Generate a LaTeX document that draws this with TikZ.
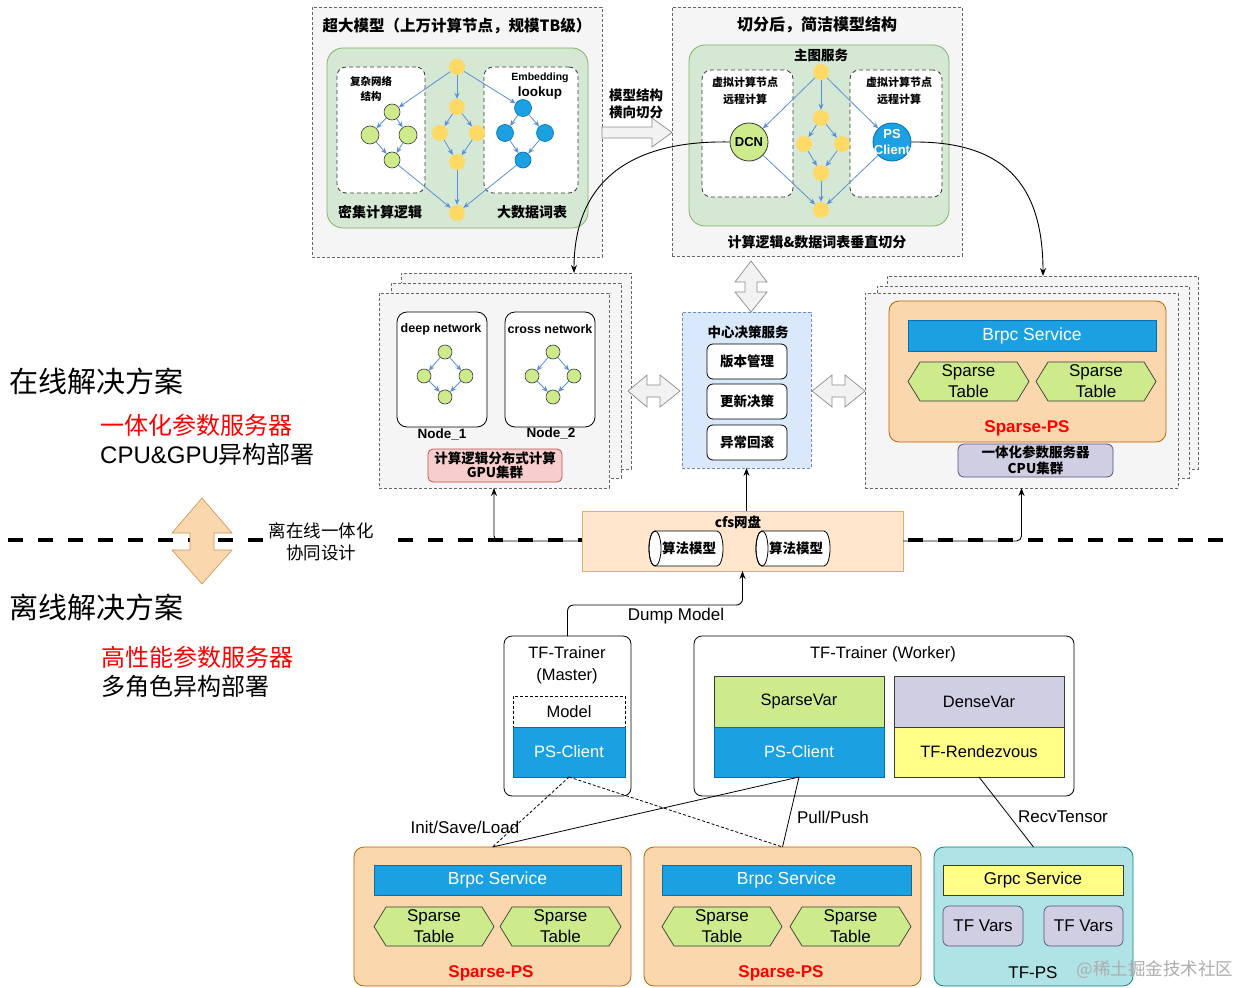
\documentclass[tikz,border=0pt]{standalone}
\usepackage{fontspec}
\setmainfont{Liberation Sans}
\newfontfamily\cjk{Noto Sans CJK SC}
\usetikzlibrary{arrows.meta,calc}
\definecolor{gfill}{HTML}{F5F5F5}
\definecolor{gline}{HTML}{666666}
\definecolor{grfill}{HTML}{D5E8D4}
\definecolor{grline}{HTML}{82B366}
\definecolor{ycol}{HTML}{FFD966}
\definecolor{lime}{HTML}{CDEB8B}
\definecolor{dk}{HTML}{36393D}
\definecolor{bl}{HTML}{1BA1E2}
\definecolor{bld}{HTML}{006EAF}
\definecolor{arr}{HTML}{5B8ED8}
\definecolor{orf}{HTML}{FAD7AC}
\definecolor{orl}{HTML}{B46504}
\definecolor{puf}{HTML}{D0CEE2}
\definecolor{pul}{HTML}{56517E}
\definecolor{yef}{HTML}{FFFF88}
\definecolor{tef}{HTML}{B0E3E6}
\definecolor{tel}{HTML}{0E8088}
\definecolor{cff}{HTML}{FFE6CC}
\definecolor{cfl}{HTML}{D6B656}
\definecolor{dbf}{HTML}{DAE8FC}
\definecolor{dbl}{HTML}{6C8EBF}
\definecolor{pkf}{HTML}{F8CECC}
\definecolor{pkl}{HTML}{B85450}
\definecolor{redt}{HTML}{FF0000}
\definecolor{blkf}{HTML}{F2F2F2}
\definecolor{blkl}{HTML}{8C8C8C}
\newcommand{\fz}[2]{\fontsize{#1}{#2}\selectfont}
\newcommand{\bnode}[7]{\node[inner sep=0pt,outer sep=0pt,minimum width={#5-#3},minimum height={#6-#4},#1] (#2) at ({(#3+#5)/2},{(#4+#6)/2}) {#7};}
\newcommand{\hexnode}[6]{%
  \draw[hexst] (#2,{(#3+#5)/2}) -- ({#2+12},#3) -- ({#4-12},#3) -- (#4,{(#3+#5)/2}) -- ({#4-12},#5) -- ({#2+12},#5) -- cycle;
  \node[align=center,font=\fz{17}{21},inner sep=0pt] (#1) at ({(#2+#4)/2},{(#3+#5)/2}) {#6};}
\newcommand{\cylnode}[6]{%
  \draw[fill=white,line width=0.8pt] ({#4-6},#3) arc[start angle=90,end angle=-90,x radius=6pt,y radius=17.5pt] -- ({#2+6},#5) arc[start angle=270,end angle=90,x radius=6pt,y radius=17.5pt] -- cycle;
  \draw[line width=0.8pt] ({#2+6},{(#3+#5)/2}) ellipse [x radius=6pt,y radius=17.5pt];
  \node[font=\cjk\bfseries\fz{13.5}{16},inner sep=0pt] (#1) at ({(#2+#4)/2+3},{(#3+#5)/2}) {#6};}
\tikzset{
 grayframe/.style={draw=gline,fill=gfill,dash pattern=on 3pt off 2pt,line width=0.7pt},
 greenbox/.style={draw=grline,fill=grfill,rounded corners=16pt,line width=0.8pt},
 wdash/.style={draw=dk,fill=white,dash pattern=on 4pt off 3pt,rounded corners=9pt,line width=0.8pt},
 ycirc/.style={circle,fill=ycol,inner sep=0pt,minimum size=16pt},
 gcirc/.style={circle,fill=lime,draw=dk,inner sep=0pt,line width=0.6pt},
 bcirc/.style={circle,fill=bl,draw=bld,inner sep=0pt,line width=0.6pt},
 barr/.style={draw=arr,line width=0.8pt,-{Stealth[length=6pt,width=5pt]}},
 karr/.style={draw=black,line width=0.9pt,-{Stealth[length=8pt,width=6pt]}},
 blockarr/.style={draw=blkl,fill=blkf,line width=0.7pt},
 bluebar/.style={fill=bl,draw=bld,text=white,line width=0.6pt},
 hexst/.style={fill=lime,draw=dk,line width=0.7pt},
 orbox/.style={fill=orf,draw=orl,rounded corners=10pt,line width=0.8pt},
 wbox/.style={draw=black,fill=white,rounded corners=7pt,line width=0.8pt},
 conn/.style={draw=black,line width=0.8pt},
}
\begin{document}
\begin{tikzpicture}[x=1pt,y=-1pt]
\useasboundingbox[fill=white] (0,0) rectangle (1241,987);

% ---------- divider ----------
\draw[line width=4pt,dash pattern=on 15pt off 15pt] (8,540) -- (264,540);
\draw[line width=4pt,dash pattern=on 15pt off 15pt] (398,540) -- (1225,540);

% ---------- left texts ----------
\node[anchor=west,inner sep=0pt,font=\cjk\fz{29}{34}] (online) at (9,381) {在线解决方案};
\node[anchor=west,inner sep=0pt,font=\cjk\fz{24}{28},text=redt] (onl1) at (100,425) {一体化参数服务器};
\node[anchor=west,inner sep=0pt,font=\fz{24}{28}] (onl2) at (100,454) {CPU\&GPU{\cjk 异构部署}};
\node[anchor=west,inner sep=0pt,font=\cjk\fz{29}{34}] (offline) at (9,607) {离线解决方案};
\node[anchor=west,inner sep=0pt,font=\cjk\fz{24}{28},text=redt] (off1) at (101,657) {高性能参数服务器};
\node[anchor=west,inner sep=0pt,font=\cjk\fz{24}{28}] (off2) at (101,686) {多角色异构部署};
\draw[fill=orf,draw=orl!70,line width=0.6pt] (202,498) -- (232,533) -- (214,533) -- (214,550) -- (232,550) -- (202,584) -- (172,550) -- (190,550) -- (190,533) -- (172,533) -- cycle;
\node[font=\cjk\fz{17.5}{22},align=center] (cotext) at (321,542) {离在线一体化\\协同设计};

% ---------- top-left box ----------
\bnode{grayframe}{tlbox}{312}{7}{602}{257}{}
\node[font=\cjk\bfseries\fz{15.5}{18}] (tltitle) at (457,26) {超大模型（上万计算节点，规模TB级）};
\bnode{greenbox}{tlgreen}{327}{48}{588}{228}{}
\bnode{wdash}{tlleft}{337}{67}{425}{193}{}
\bnode{wdash}{tlright}{484}{67}{578}{193}{}
\node[font=\cjk\bfseries\fz{10.5}{15},align=center] (tlcx) at (371,88.5) {复杂网络\\结构};
\node[font=\bfseries\fz{10.5}{12}] (tlemb) at (540,78) {Embedding};
\node[font=\bfseries\fz{13.5}{16}] (tllook) at (540,93) {lookup};
\node[font=\cjk\bfseries\fz{14}{16}] (tlmj) at (380,212) {密集计算逻辑};
\node[font=\cjk\bfseries\fz{14}{16}] (tldsj) at (532,212) {大数据词表};
\node[ycirc] (ya1) at (457,67) {};
\node[ycirc] (ya2) at (457,107) {};
\node[ycirc] (ya3) at (440,133) {};
\node[ycirc] (ya4) at (477,133) {};
\node[ycirc] (ya5) at (457,162) {};
\node[ycirc] (ya6) at (457,213) {};
\node[gcirc,minimum size=16pt] (ga1) at (392,112) {};
\node[gcirc,minimum size=18pt] (ga2) at (370,135) {};
\node[gcirc,minimum size=18pt] (ga3) at (408,135) {};
\node[gcirc,minimum size=16pt] (ga4) at (392,160) {};
\node[bcirc,minimum size=17pt] (ba1) at (523,108) {};
\node[bcirc,minimum size=17pt] (ba2) at (505,133) {};
\node[bcirc,minimum size=17pt] (ba3) at (545,133) {};
\node[bcirc,minimum size=16pt] (ba4) at (523,160) {};
\draw[barr] (ya1) -- (ga1);
\draw[barr] (ya1) -- (ya2);
\draw[barr] (ya1) -- (ba1);
\draw[barr] (ya2) -- (ya3);
\draw[barr] (ya2) -- (ya4);
\draw[barr] (ya3) -- (ya5);
\draw[barr] (ya4) -- (ya5);
\draw[barr] (ya5) -- (ya6);
\draw[barr] (ga1) -- (ga2);
\draw[barr] (ga1) -- (ga3);
\draw[barr] (ga2) -- (ga4);
\draw[barr] (ga3) -- (ga4);
\draw[barr] (ga4) -- (ya6);
\draw[barr] (ba1) -- (ba2);
\draw[barr] (ba1) -- (ba3);
\draw[barr] (ba2) -- (ba4);
\draw[barr] (ba3) -- (ba4);
\draw[barr] (ba4) -- (ya6);

% ---------- split arrow ----------
\draw[blockarr] (602,127) -- (652,127) -- (652,118) -- (672,132.5) -- (652,147) -- (652,138) -- (602,138) -- cycle;
\node[font=\cjk\bfseries\fz{13.5}{17},align=center] (cutlbl) at (636,103.5) {模型结构\\横向切分};

% ---------- top-right box ----------
\bnode{grayframe}{trbox}{672}{7}{962}{256}{}
\node[font=\cjk\bfseries\fz{16}{18}] (trtitle) at (817,25) {切分后，简洁模型结构};
\bnode{greenbox}{trgreen}{689}{45}{949}{226}{}
\node[font=\cjk\bfseries\fz{13.5}{16}] (trmain) at (821,55) {主图服务};
\bnode{wdash}{trleft}{702}{70}{793}{197}{}
\bnode{wdash}{trright}{850}{70}{942}{197}{}
\node[font=\cjk\bfseries\fz{11}{17},align=center] (trl) at (745,90.5) {虚拟计算节点\\远程计算};
\node[font=\cjk\bfseries\fz{11}{17},align=center] (trr) at (899,90.5) {虚拟计算节点\\远程计算};
\node[font=\cjk\bfseries\fz{14}{16}] (trbot) at (817,242) {计算逻辑\&数据词表垂直切分};
\node[ycirc] (yb1) at (821,72) {};
\node[ycirc] (yb2) at (821,118) {};
\node[ycirc] (yb3) at (804,144) {};
\node[ycirc] (yb4) at (842,144) {};
\node[ycirc] (yb5) at (821,173) {};
\node[ycirc] (yb6) at (821,210) {};
\node[gcirc,minimum size=38pt,line width=0.8pt] (dcn) at (749,142) {};
\node[font=\bfseries\fz{13}{15},inner sep=0pt] (dcntxt) at (dcn) {DCN};
\node[bcirc,minimum size=38pt,line width=0.8pt] (psc) at (892,142) {};
\node[font=\bfseries\fz{13}{16},text=white,align=center,inner sep=0pt] (psctxt) at (892,142) {PS\\Client};
\draw[barr] (yb1) -- (dcn);
\draw[barr] (yb1) -- (yb2);
\draw[barr] (yb1) -- (psc);
\draw[barr] (yb2) -- (yb3);
\draw[barr] (yb2) -- (yb4);
\draw[barr] (yb3) -- (yb5);
\draw[barr] (yb4) -- (yb5);
\draw[barr] (yb5) -- (yb6);
\draw[barr] (dcn) -- (yb6);
\draw[barr] (psc) -- (yb6);

% ---------- GPU cluster ----------
\bnode{grayframe}{gpu3}{401}{273}{631}{469}{}
\bnode{grayframe}{gpu2}{391}{283}{621}{478}{}
\bnode{grayframe}{gpu1}{379}{293}{609}{488}{}
\bnode{wbox,rounded corners=10pt}{nd1}{397}{312}{487}{427}{}
\bnode{wbox,rounded corners=10pt}{nd2}{505}{312}{595}{427}{}
\node[font=\bfseries\fz{12.5}{14}] (nd1t) at (441,329) {deep network};
\node[font=\bfseries\fz{12.5}{14}] (nd2t) at (550,329) {cross network};
\node[font=\bfseries\fz{13.5}{15}] (nd1l) at (442,434) {Node\_1};
\node[font=\bfseries\fz{13.5}{15}] (nd2l) at (551,433) {Node\_2};
\node[gcirc,minimum size=14pt] (c1a) at (445,352) {};
\node[gcirc,minimum size=14pt] (c1b) at (424,376) {};
\node[gcirc,minimum size=14pt] (c1c) at (466,376) {};
\node[gcirc,minimum size=14pt] (c1d) at (445,397) {};
\node[gcirc,minimum size=14pt] (c2a) at (553,352) {};
\node[gcirc,minimum size=14pt] (c2b) at (532,376) {};
\node[gcirc,minimum size=14pt] (c2c) at (574,376) {};
\node[gcirc,minimum size=14pt] (c2d) at (553,397) {};
\draw[barr] (c1a) -- (c1b);
\draw[barr] (c1a) -- (c1c);
\draw[barr] (c1b) -- (c1d);
\draw[barr] (c1c) -- (c1d);
\draw[barr] (c2a) -- (c2b);
\draw[barr] (c2a) -- (c2c);
\draw[barr] (c2b) -- (c2d);
\draw[barr] (c2c) -- (c2d);
\bnode{fill=pkf,draw=pkl,rounded corners=5pt,line width=0.8pt,align=center,font=\cjk\bfseries\fz{13.5}{14.5}}{gpulbl}{428}{449}{562}{482}{计算逻辑分布式计算\\GPU集群}

% ---------- decision ----------
\bnode{fill=dbf,draw=dbl,dash pattern=on 3pt off 2pt,line width=0.7pt}{dec}{682}{312}{811}{468}{}
\node[font=\cjk\bfseries\fz{13.5}{16}] (dect) at (748,332) {中心决策服务};
\bnode{wbox,rounded corners=6pt,font=\cjk\bfseries\fz{13.5}{16}}{dec1}{707}{344}{787}{379}{版本管理}
\bnode{wbox,rounded corners=6pt,font=\cjk\bfseries\fz{13.5}{16}}{dec2}{707}{384}{787}{419}{更新决策}
\bnode{wbox,rounded corners=6pt,font=\cjk\bfseries\fz{13.5}{16}}{dec3}{707}{425}{787}{460}{异常回滚}

% block arrows around decision
\draw[blockarr] (751,261) -- (767,282) -- (757,282) -- (757,292) -- (767,292) -- (751,312) -- (735,292) -- (745,292) -- (745,282) -- (735,282) -- cycle;
\draw[blockarr] (628,391) -- (647,375) -- (647,385) -- (660,385) -- (660,375) -- (680,391) -- (660,407) -- (660,397) -- (647,397) -- (647,407) -- cycle;
\draw[blockarr] (812,391) -- (832,375) -- (832,385) -- (845,385) -- (845,375) -- (865,391) -- (845,407) -- (845,397) -- (832,397) -- (832,407) -- cycle;

% ---------- CPU cluster ----------
\bnode{grayframe}{cpu3}{887}{276}{1198}{469}{}
\bnode{grayframe}{cpu2}{877}{286}{1189}{478}{}
\bnode{grayframe}{cpu1}{865}{293}{1178}{488}{}
\bnode{orbox}{cpuor}{889}{301}{1166}{442}{}
\bnode{bluebar,font=\fz{17.5}{20}}{cpubrpc}{908}{320}{1156}{351}{Brpc Service}
\hexnode{cpuh1}{908}{362}{1029}{401}{Sparse\\Table}
\hexnode{cpuh2}{1036}{362}{1156}{401}{Sparse\\Table}
\node[font=\bfseries\fz{17}{20},text=redt] (cpusps) at (1027,428) {Sparse-PS};
\bnode{fill=puf,draw=pul,rounded corners=6pt,line width=0.8pt,align=center,font=\cjk\bfseries\fz{13.5}{16}}{cpulbl}{958}{444}{1113}{477}{一体化参数服务器\\CPU集群}

% ---------- cfs ----------
\bnode{fill=cff,draw=cfl,line width=0.9pt}{cfs}{582}{511}{903}{571}{}
\node[font=\cjk\bfseries\fz{13.5}{16}] (cfst) at (738,522) {cfs网盘};
\cylnode{cyl1}{649}{531}{723}{566}{算法模型}
\cylnode{cyl2}{756}{531}{830}{566}{算法模型}

% ---------- curves / arrows upper ----------
\coordinate (gpuin) at (574,273);
\coordinate (cpuin) at (1043,276);
\draw[karr] (dcn.west) .. controls (620,140) and (574,190) .. (gpuin);
\draw[karr] (psc.east) .. controls (1000,141) and (1043,180) .. (cpuin);
\draw[karr,rounded corners=5pt] (cfs.west) -| (gpu1.south);
\draw[karr,rounded corners=5pt] (cfs.east) -| (cpu1.south);
\draw[karr] (cfs.north -| dec.south) -- (dec.south);

% ---------- trainers ----------
\bnode{wbox,rounded corners=8pt}{master}{504}{636}{631}{796}{}
\node[font=\fz{16.5}{22},align=center] (mastert) at (567,665) {TF-Trainer\\(Master)};
\bnode{draw=black,fill=white,dash pattern=on 3pt off 2pt,line width=0.8pt,font=\fz{16.5}{20}}{model}{513}{696}{625}{727}{Model}
\bnode{bluebar,font=\fz{16.5}{20}}{mps}{513}{727}{625}{777}{PS-Client}
\bnode{wbox,rounded corners=8pt}{worker}{694}{636}{1074}{796}{}
\node[font=\fz{16.5}{20}] (workert) at (883,654) {TF-Trainer (Worker)};
\bnode{fill=lime,draw=dk,line width=0.6pt,font=\fz{16.5}{20}}{svar}{714}{676}{884}{727}{SparseVar}
\bnode{bluebar,font=\fz{16.5}{20}}{wps}{714}{727}{884}{777}{PS-Client}
\bnode{fill=puf,draw=dk,line width=0.6pt,font=\fz{16.5}{20}}{dvar}{894}{676}{1064}{727}{DenseVar}
\bnode{fill=yef,draw=dk,line width=0.6pt,font=\fz{16.5}{20}}{trz}{894}{727}{1064}{777}{TF-Rendezvous}
\draw[karr,rounded corners=6pt] (master.north) |- ($(cfs.south)+(0,34)$) -- (cfs.south);
\node[font=\fz{17}{20}] (dumpl) at (676,616) {Dump Model};

% ---------- servers ----------
\bnode{orbox}{ps1}{354}{847}{631}{986}{}
\bnode{bluebar,font=\fz{17.5}{20}}{ps1brpc}{374}{865}{621}{895}{Brpc Service}
\hexnode{ps1h1}{374}{907}{494}{946}{Sparse\\Table}
\hexnode{ps1h2}{500}{907}{621}{946}{Sparse\\Table}
\node[font=\bfseries\fz{17}{20},text=redt] (ps1l) at (491,973) {Sparse-PS};
\bnode{orbox}{ps2}{644}{847}{921}{986}{}
\bnode{bluebar,font=\fz{17.5}{20}}{ps2brpc}{662}{865}{911}{895}{Brpc Service}
\hexnode{ps2h1}{662}{907}{782}{946}{Sparse\\Table}
\hexnode{ps2h2}{790}{907}{911}{946}{Sparse\\Table}
\node[font=\bfseries\fz{17}{20},text=redt] (ps2l) at (781,973) {Sparse-PS};
\bnode{fill=tef,draw=tel,rounded corners=10pt,line width=0.8pt}{tfps}{934}{847}{1133}{986}{}
\bnode{fill=yef,draw=dk,line width=0.6pt,font=\fz{17}{20}}{grpc}{943}{865}{1123}{895}{Grpc Service}
\bnode{fill=puf,draw=pul,rounded corners=6pt,line width=0.7pt,font=\fz{17}{20}}{tfv1}{943}{906}{1023}{946}{TF Vars}
\bnode{fill=puf,draw=pul,rounded corners=6pt,line width=0.7pt,font=\fz{17}{20}}{tfv2}{1044}{906}{1123}{946}{TF Vars}
\node[font=\fz{17}{20}] (tfpsl) at (1033,973) {TF-PS};

% ---------- lower connectors ----------
\draw[conn,dash pattern=on 3pt off 2pt] (mps.south) -- (ps1.north);
\draw[conn,dash pattern=on 3pt off 2pt] (mps.south) -- (ps2.north);
\draw[conn] (wps.south) -- (ps1.north);
\draw[conn] (wps.south) -- (ps2.north);
\draw[conn] (trz.south) -- (tfps.north);
\node[font=\fz{17}{20}] (isl) at (465,827) {Init/Save/Load};
\node[font=\fz{17}{20}] (ppl) at (833,817) {Pull/Push};
\node[font=\fz{17}{20}] (rtl) at (1063,817) {RecvTensor};

% watermark
\node[font=\cjk\fz{17.5}{20},text=black!32] (wm) at (1155,970) {@稀土掘金技术社区};
\end{tikzpicture}
\end{document}
